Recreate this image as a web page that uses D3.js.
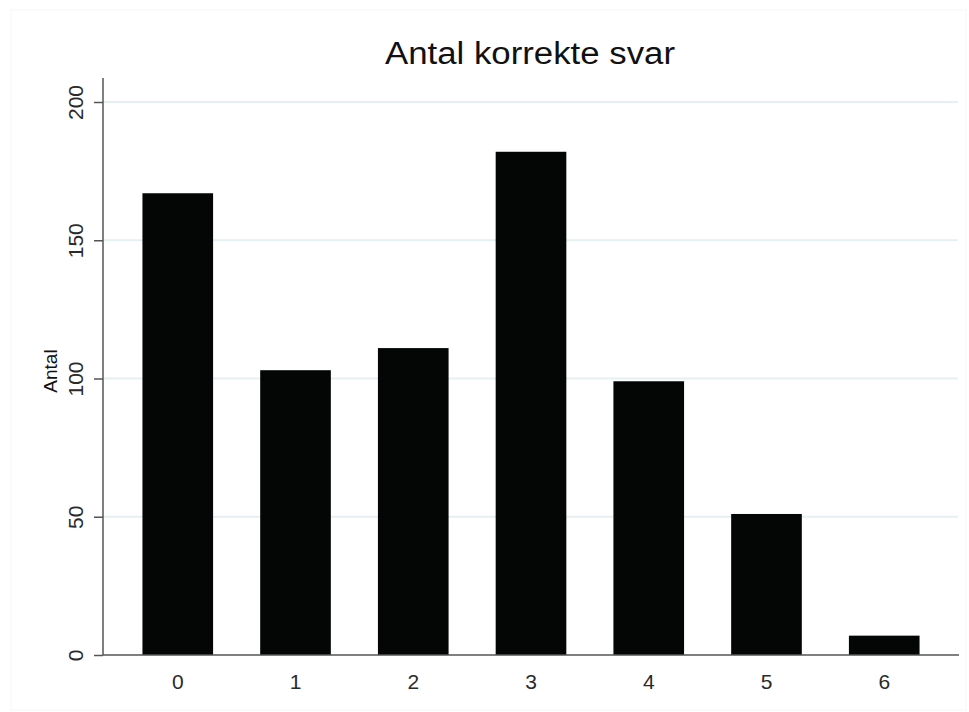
<!DOCTYPE html>
<html>
<head>
<meta charset="utf-8">
<script src="https://cdn.jsdelivr.net/npm/d3@7"></script>
<style>
  html, body { margin: 0; padding: 0; background: #ffffff; }
  svg { display: block; font-family: "Liberation Sans", Arial, Helvetica, sans-serif; }
</style>
</head>
<body>
<svg id="chart" width="969" height="712"></svg>
<script>
const categories = ["0", "1", "2", "3", "4", "5", "6"];
const counts = [167, 103, 111, 182, 99, 51, 7];
const yTicks = [0, 50, 100, 150, 200];
const titleText = "Antal korrekte svar";
const yLabel = "Antal";

const svg = d3.select("#chart");
const W = 969, H = 712;
const margin = { left: 103, right: 10, top: 102, bottom: 57 };
const plotLeft = margin.left, plotRight = W - margin.right;
const plotBottom = H - margin.bottom, plotTop = margin.top;

// faint outer frame
svg.append("rect").attr("x", 11).attr("y", 10).attr("width", W - 14).attr("height", H - 12)
  .attr("fill", "#ffffff").attr("stroke", "#f4f5f5").attr("stroke-width", 1);

const x = d3.scaleBand().domain(categories).range([plotLeft, plotRight])
  .paddingInner(0.4).paddingOuter(0.335);
const y = d3.scaleLinear().domain([0, 200]).range([plotBottom, plotTop]);

// gridlines
svg.append("g").selectAll("line").data(yTicks.filter(d => d > 0)).join("line")
  .attr("x1", plotLeft).attr("x2", plotRight - 1)
  .attr("y1", d => y(d)).attr("y2", d => y(d))
  .attr("stroke", "#e6eff2").attr("stroke-width", 2);

// bars
svg.append("g").selectAll("rect").data(counts).join("rect")
  .attr("x", (d, i) => x(categories[i]))
  .attr("width", x.bandwidth())
  .attr("y", d => y(d))
  .attr("height", d => y(0) - y(d))
  .attr("fill", "#040606");

// y axis
const yAxis = svg.append("g").attr("transform", `translate(${plotLeft},0)`)
  .call(d3.axisLeft(y).tickValues(yTicks).tickSize(9).tickSizeOuter(0).tickFormat(d3.format("d")));
yAxis.select(".domain").remove();
yAxis.selectAll(".tick line").attr("stroke", "#555").attr("stroke-width", 1.5);
yAxis.selectAll(".tick text")
  .attr("transform", "rotate(-90)")
  .attr("x", 0).attr("y", -20).attr("dy", 0)
  .attr("text-anchor", "middle")
  .attr("font-size", 21).attr("fill", "#2a2a2a");
yAxis.append("line").attr("x1", 0).attr("x2", 0)
  .attr("y1", y(0)).attr("y2", y(200) - 24)
  .attr("stroke", "#555").attr("stroke-width", 1.5);

// x axis
const xAxis = svg.append("g").attr("transform", `translate(0,${plotBottom})`)
  .call(d3.axisBottom(x).tickSize(0).tickSizeOuter(0));
xAxis.select(".domain").remove();
xAxis.append("line").attr("x1", plotLeft).attr("x2", plotRight)
  .attr("y1", 0).attr("y2", 0).attr("stroke", "#555").attr("stroke-width", 1.5);
xAxis.selectAll(".tick text").attr("y", 19).attr("dy", "0.71em")
  .attr("font-size", 21).attr("fill", "#2a2a2a");

// y label
svg.append("text")
  .attr("transform", `translate(57,371) rotate(-90)`)
  .attr("text-anchor", "middle")
  .attr("font-size", 19).attr("fill", "#111")
  .text(yLabel);

// title
svg.append("text")
  .attr("x", 530).attr("y", 64)
  .attr("text-anchor", "middle")
  .attr("font-size", 31).attr("fill", "#111")
  .attr("textLength", 290).attr("lengthAdjust", "spacingAndGlyphs")
  .text(titleText);
</script>
</body>
</html>
